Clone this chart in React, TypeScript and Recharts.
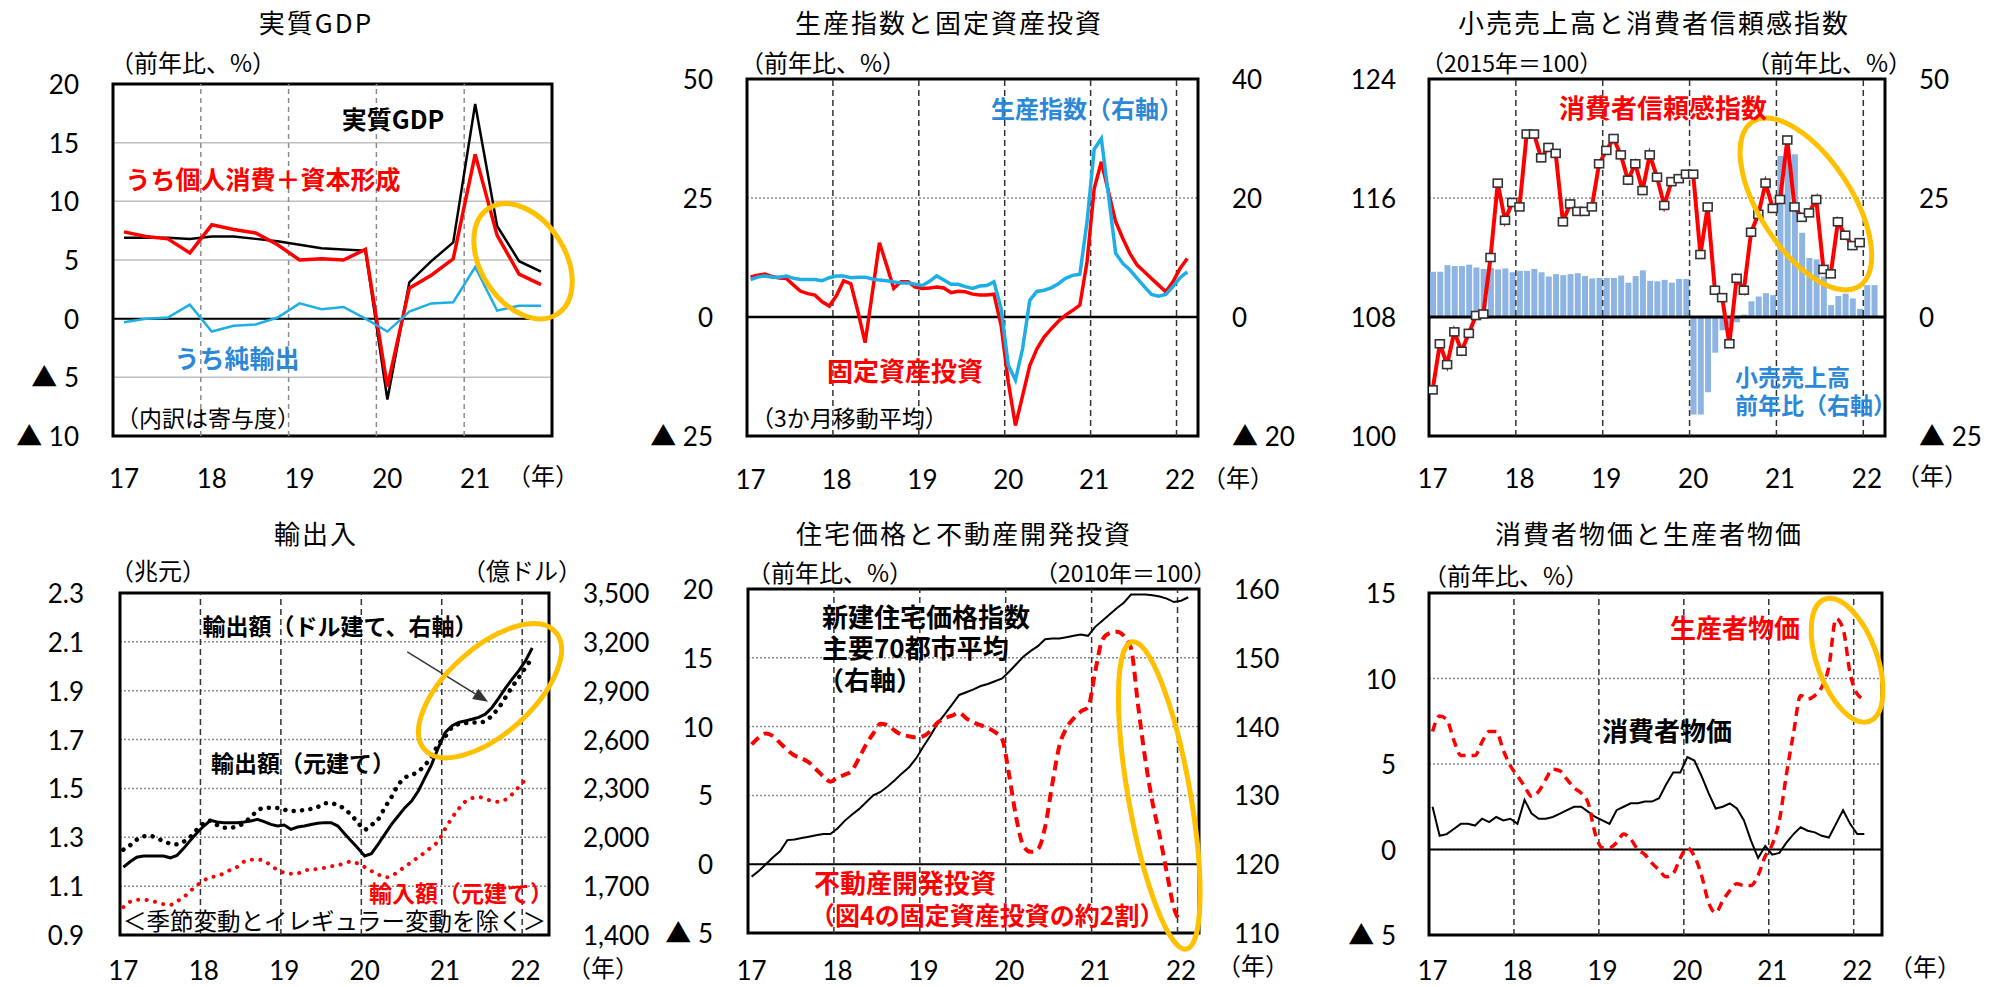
import React from "react";
import {
  Bar,
  CartesianGrid,
  ComposedChart,
  Line,
  ReferenceArea,
  ReferenceDot,
  ReferenceLine,
  XAxis,
  YAxis,
} from "recharts";

const FONT = "'Noto Sans CJK JP', 'Noto Sans', sans-serif";
const NUM_FONT = "Lato, 'Noto Sans CJK JP', sans-serif";
const RED = "#ff0000";
const SKY = "#1daee8";
const LABEL_BLUE = "#2b88d8";
const BAR_BLUE = "#8db4e2";
const GOLD = "#ffc000";

const yearLabels = ["17", "18", "19", "20", "21", "22"];

// ---- 実質GDP (quarterly, 17Q1-21Q4)
const gdpReal = [6.9, 6.9, 6.9, 6.8, 7.0, 7.0, 6.8, 6.6, 6.3, 6.0, 5.9, 5.8, -6.9, 3.1, 4.9, 6.5, 18.3, 7.9, 4.9, 4.0];
const gdpDomestic = [7.4, 7.0, 6.8, 5.6, 8.0, 7.6, 7.3, 6.3, 5.0, 5.1, 5.0, 5.9, -5.8, 2.6, 3.7, 5.1, 14.0, 7.1, 3.8, 2.9];
const gdpNetExports = [-0.3, 0.0, 0.1, 1.2, -1.1, -0.6, -0.5, 0.1, 1.3, 0.8, 1.0, 0.0, -1.1, 0.6, 1.3, 1.4, 4.4, 0.7, 1.1, 1.1];

// ---- 生産指数と固定資産投資 (monthly from Jan-17, 3mma)
const fixedInvest = [
  8.4, 8.8, 9.0, 8.5, 8.2, 8.1, 6.7, 5.4, 4.9, 4.6, 3.2, 2.3,
  4.5, 7.6, 7.0, 1.1, -5.4, 5.0, 15.6, 10.9, 6.0, 7.4, 7.4, 6.3,
  6.0, 6.1, 6.3, 6.1, 5.1, 5.4, 5.3, 4.8, 4.6, 4.6, 4.8, -1.8,
  -13.7, -22.8, -16.5, -10.2, -6.7, -4.2, -2.5, -0.9, 0.4, 1.4, 2.5, 11.6,
  27.0, 32.6, 26.3, 20.0, 16.5, 13.3, 10.9, 9.5, 8.1, 6.7, 5.3, 7.4,
  10.2, 12.3,
];
const industrialProd = [
  6.3, 6.7, 6.9, 6.7, 6.7, 6.9, 6.5, 6.3, 6.3, 6.3, 6.1, 6.6,
  6.9, 6.9, 6.6, 6.7, 6.7, 6.4, 6.2, 6.1, 5.9, 5.7, 5.7, 5.5,
  5.3, 6.0, 6.9, 6.2, 5.5, 5.5, 5.1, 4.8, 5.2, 5.3, 5.9, 1.4,
  -8.1, -10.6, -5.3, 2.8, 4.3, 4.5, 4.9, 5.6, 6.5, 7.0, 7.2, 16.0,
  28.2, 30.0, 20.4, 10.7, 9.0, 7.9, 6.5, 5.1, 3.8, 3.5, 3.8, 5.1,
  6.6, 7.6,
];

// ---- 小売売上高と消費者信頼感指数
const consumerConfidence = [
  103.1, 106.2, 104.8, 107.0, 105.7, 106.9, 108.1, 108.2, 112.0, 117.0, 114.5, 115.7,
  115.4, 120.3, 120.3, 118.7, 119.4, 119.0, 114.4, 115.6, 115.1, 115.1, 115.4, 118.3,
  119.2, 120.0, 118.9, 117.2, 118.3, 116.5, 118.9, 117.4, 115.5, 117.1, 117.3, 117.6,
  117.6, 112.2, 115.4, 109.8, 109.3, 106.2, 110.6, 109.8, 113.7, 114.9, 117.0, 115.3,
  115.9, 119.9, 115.4, 114.7, 115.0, 115.9, 111.2, 110.9, 114.4, 113.5, 112.8, 113.0,
];
const retailSales = [
  9.5, 9.5, 10.9, 10.7, 10.7, 11.0, 10.4, 10.1, 10.3, 10.0, 10.2, 9.4,
  9.7, 9.7, 10.1, 9.4, 8.5, 9.0, 8.8, 9.0, 9.2, 8.6, 8.1, 8.2,
  8.2, 8.2, 8.7, 7.2, 8.6, 9.8, 7.6, 7.5, 7.8, 7.2, 8.0, 8.0,
  -20.5, -20.5, -15.8, -7.5, -2.8, -1.8, -1.1, 0.5, 3.3, 4.3, 5.0, 4.6,
  33.8, 33.8, 34.2, 17.7, 12.4, 12.1, 8.5, 2.5, 4.4, 4.9, 3.9, 1.7,
  6.7, 6.7,
];

// ---- 輸出入
const exportsUsd = [
  1817, 1850, 1878, 1885, 1885, 1885, 1885, 1874, 1889, 1932, 1981, 2028,
  2069, 2104, 2094, 2090, 2090, 2090, 2094, 2100, 2110, 2096, 2079, 2069,
  2075, 2049, 2063, 2069, 2079, 2086, 2090, 2090, 2069, 2022, 1977, 1932,
  1885, 1899, 1956, 2018, 2079, 2131, 2182, 2223, 2284, 2366, 2448, 2551,
  2643, 2684, 2705, 2715, 2725, 2736, 2756, 2797, 2855, 2916, 2971, 3023,
  3084, 3162,
];
const exportsCny = [
  1.249, 1.267, 1.29, 1.304, 1.306, 1.295, 1.285, 1.274, 1.271, 1.282, 1.302, 1.332,
  1.358, 1.368, 1.35, 1.339, 1.339, 1.346, 1.358, 1.383, 1.408, 1.421, 1.421, 1.42,
  1.413, 1.408, 1.408, 1.412, 1.416, 1.424, 1.439, 1.439, 1.431, 1.416, 1.391, 1.36,
  1.331, 1.35, 1.373, 1.421, 1.465, 1.514, 1.544, 1.555, 1.569, 1.596, 1.63, 1.681,
  1.712, 1.749, 1.763, 1.767, 1.77, 1.77, 1.775, 1.799, 1.83, 1.872, 1.916, 1.954,
  1.995, 2.034,
];
const importsCny = [
  1.014, 1.036, 1.044, 1.044, 1.041, 1.034, 1.026, 1.023, 1.038, 1.055, 1.08, 1.104,
  1.123, 1.137, 1.141, 1.153, 1.167, 1.179, 1.2, 1.208, 1.209, 1.203, 1.185, 1.166,
  1.155, 1.151, 1.152, 1.166, 1.167, 1.171, 1.175, 1.181, 1.186, 1.193, 1.201, 1.192,
  1.178, 1.162, 1.148, 1.136, 1.14, 1.162, 1.178, 1.2, 1.218, 1.239, 1.261, 1.285,
  1.334, 1.378, 1.416, 1.446, 1.46, 1.465, 1.457, 1.449, 1.445, 1.454, 1.476, 1.506,
  1.537,
];

// ---- 住宅価格と不動産開発投資
const housePrice = [
  118.2, 119.0, 120.0, 121.0, 121.9, 123.5, 123.6, 123.8, 124.0, 124.2, 124.4, 124.4,
  125.2, 126.3, 127.2, 128.0, 129.0, 130.0, 130.5, 131.3, 132.2, 133.2, 134.1, 135.4,
  137.1, 138.7, 140.5, 141.8, 143.2, 144.6, 145.0, 145.4, 145.9, 146.2, 146.6, 147.0,
  148.0, 149.1, 150.2, 151.0, 151.7, 152.7, 152.8, 152.8, 153.0, 153.2, 153.4, 153.2,
  154.5, 155.4, 156.3, 157.2, 158.0, 159.2, 159.2, 159.2, 159.1, 158.9, 158.6, 158.1,
  158.3, 158.8,
];
const realEstateInvest = [
  8.7, 9.2, 9.5, 9.3, 8.8, 8.3, 7.9, 7.7, 7.4, 6.9, 6.4, 6.0,
  6.3, 6.5, 6.8, 7.7, 8.7, 9.5, 10.2, 10.1, 9.7, 9.4, 9.3, 9.2,
  9.3, 9.7, 10.3, 10.6, 10.8, 11.0, 10.6, 10.3, 10.1, 9.9, 9.6, 9.1,
  6.4, 3.3, 1.3, 0.9, 1.1, 2.7, 5.8, 8.6, 9.9, 10.6, 11.1, 11.4,
  14.0, 16.3, 16.8, 16.9, 16.6, 15.7, 11.5, 7.6, 4.5, 2.1, -0.6, -3.2,
  -4.2,
];

// ---- 消費者物価と生産者物価
const cpi = [
  2.5, 0.8, 0.9, 1.2, 1.5, 1.5, 1.4, 1.8, 1.6, 1.9, 1.7, 1.8,
  1.5, 2.9, 2.1, 1.8, 1.8, 1.9, 2.1, 2.3, 2.5, 2.5, 2.2, 1.9,
  1.7, 1.5, 2.3, 2.5, 2.7, 2.7, 2.8, 2.8, 3.0, 3.8, 4.5, 4.5,
  5.4, 5.2, 4.3, 3.3, 2.4, 2.5, 2.7, 2.4, 1.7, 0.5, -0.5, 0.2,
  -0.3, -0.2, 0.4, 0.9, 1.3, 1.1, 1.0, 0.8, 0.7, 1.5, 2.3, 1.5,
  0.9, 0.9,
];
const ppi = [
  6.9, 7.8, 7.6, 6.4, 5.5, 5.5, 5.5, 6.3, 6.9, 6.9, 5.8, 4.9,
  4.3, 3.7, 3.1, 3.4, 4.1, 4.7, 4.6, 4.1, 3.6, 3.3, 2.7, 0.9,
  0.1, 0.1, 0.4, 0.9, 0.6, 0.0, -0.3, -0.8, -1.2, -1.6, -1.4, -0.5,
  0.1, -0.4, -1.5, -3.1, -3.7, -3.0, -2.4, -2.0, -2.1, -2.1, -1.5, -0.4,
  0.3, 1.7, 4.4, 6.8, 9.0, 8.8, 9.0, 9.5, 10.7, 13.5, 12.9, 10.3,
  9.1, 8.8,
];

function rows(cols: Record<string, number[]>) {
  const n = Math.max(...Object.values(cols).map((c) => c.length));
  return Array.from({ length: n }, (_, i) => {
    const row: Record<string, number | undefined> = { x: i + 0.5 };
    for (const k of Object.keys(cols)) row[k] = cols[k][i];
    return row;
  });
}

const gdpRows = rows({ gdp: gdpReal, dom: gdpDomestic, net: gdpNetExports });
const prodRows = rows({ fai: fixedInvest, ip: industrialProd });
const retailRows = rows({ conf: consumerConfidence, retail: retailSales });
const tradeRows = rows({ usd: exportsUsd, exCny: exportsCny, imCny: importsCny });
const houseRows = rows({ price: housePrice, reInv: realEstateInvest });
const priceRows = rows({ cpi, ppi });

type Box = { L: number; T: number; R: number; B: number; axisH: number; dy: number };
const SIDE = 110;
const TOP = 26;

const P1: Box = { L: 113, T: 84, R: 552, B: 436, axisH: 64, dy: 40 };
const P2: Box = { L: 747, T: 79, R: 1198, B: 436, axisH: 64, dy: 41 };
const P3: Box = { L: 1429, T: 79, R: 1885, B: 436, axisH: 64, dy: 40 };
const P4: Box = { L: 120, T: 593, R: 549, B: 935, axisH: 52, dy: 33 };
const P5: Box = { L: 748, T: 589, R: 1199, B: 933, axisH: 54, dy: 35 };
const P6: Box = { L: 1429, T: 593, R: 1882, B: 935, axisH: 52, dy: 33 };

const wrap = (b: Box): React.CSSProperties => ({ position: "absolute", left: b.L - SIDE, top: b.T - TOP });
const cw = (b: Box) => b.R - b.L + 2 * SIDE;
const ch = (b: Box) => b.B - b.T + TOP + b.axisH;
const margin = { top: TOP, right: SIDE, bottom: 0, left: 0 };
const margin2 = { top: TOP, right: 0, bottom: 0, left: 0 };

const tri = (v: number) => (v < 0 ? `▲ ${Math.abs(v)}` : `${v}`);
const dec1 = (v: number) => v.toFixed(1);
const thousands = (v: number) => v.toLocaleString("en-US");

const leftTick = (fmt: (v: number) => string, dx = 32) => (p: any) => (
  <text x={p.x - dx} y={p.y} textAnchor="end" dominantBaseline="central" fontFamily={NUM_FONT} fontSize={26} fill="#000">
    {fmt(p.payload.value)}
  </text>
);
const rightTick = (fmt: (v: number) => string, dx = 32) => (p: any) => (
  <text x={p.x + dx} y={p.y} textAnchor="start" dominantBaseline="central" fontFamily={NUM_FONT} fontSize={26} fill="#000">
    {fmt(p.payload.value)}
  </text>
);
const xTick = (step: number, dy: number) => (p: any) => (
  <text x={p.x} y={p.y + dy} textAnchor="middle" dominantBaseline="central" fontFamily={NUM_FONT} fontSize={26} fill="#000">
    {yearLabels[Math.round((p.payload.value - 0.5) / step)]}
  </text>
);
const yearTicks = (n: number, step: number) => {
  const t: number[] = [];
  for (let v = 0.5; v < n; v += step) t.push(v);
  return t;
};

function xAxis(b: Box, n: number, step: number) {
  return (
    <XAxis
      key="xa"
      type="number"
      dataKey="x"
      domain={[0, n]}
      ticks={yearTicks(n, step)}
      interval={0}
      allowDataOverflow
      axisLine={false}
      tickLine={false}
      tickSize={0}
      height={b.axisH}
      tick={xTick(step, b.dy)}
    />
  );
}

function frame(n: number, step: number, grid: { stroke: string; dash?: string }, vLine: { stroke: string; dash: string }) {
  const out: React.ReactNode[] = [
    <CartesianGrid key="grid" vertical={false} stroke={grid.stroke} strokeDasharray={grid.dash} strokeWidth={1.5} />,
  ];
  for (let k = step; k < n; k += step) {
    out.push(<ReferenceLine key={`yr${k}`} x={k} stroke={vLine.stroke} strokeDasharray={vLine.dash} strokeWidth={1.5} />);
  }
  return out;
}

const border = (n: number, y1: number, y2: number) => (
  <ReferenceArea x1={0} x2={n} y1={y1} y2={y2} fill="none" fillOpacity={0} stroke="#000" strokeWidth={3} ifOverflow="visible" />
);

const ellipse = (rx: number, ry: number, rot: number) => (p: any) => (
  <ellipse
    cx={p.cx}
    cy={p.cy}
    rx={rx}
    ry={ry}
    transform={`rotate(${rot} ${p.cx} ${p.cy})`}
    fill="none"
    stroke={GOLD}
    strokeWidth={5}
  />
);

const arrow = (p: any) => {
  const { x1, y1, x2, y2 } = p;
  const a = Math.atan2(y2 - y1, x2 - x1);
  const len = 15;
  const w = 6;
  const bx = x2 - len * Math.cos(a);
  const by = y2 - len * Math.sin(a);
  const pts = `${x2},${y2} ${bx + w * Math.sin(a)},${by - w * Math.cos(a)} ${bx - w * Math.sin(a)},${by + w * Math.cos(a)}`;
  return (
    <g>
      <line x1={x1} y1={y1} x2={bx} y2={by} stroke="#333" strokeWidth={1.5} />
      <polygon points={pts} fill="#333" />
    </g>
  );
};

const squareDot = (p: any) => {
  if (p.cx == null || p.cy == null || p.value == null) return <g key={p.index} />;
  return <rect key={p.index} x={p.cx - 4.5} y={p.cy - 4} width={9} height={8} fill="#fff" stroke="#333" strokeWidth={1.6} />;
};

type Lbl = { t: string; x: number; y: number; size?: number; color?: string; bold?: boolean; left?: boolean; ls?: number };

const labels: Lbl[] = [
  // titles
  { t: "実質GDP", x: 316, y: 22, size: 26, ls: 2 },
  { t: "生産指数と固定資産投資", x: 949, y: 22, size: 26, ls: 2 },
  { t: "小売売上高と消費者信頼感指数", x: 1654, y: 22, size: 26, ls: 2 },
  { t: "輸出入", x: 316, y: 533, size: 26, ls: 2 },
  { t: "住宅価格と不動産開発投資", x: 964, y: 533, size: 26, ls: 2 },
  { t: "消費者物価と生産者物価", x: 1649, y: 533, size: 26, ls: 2 },
  // units
  { t: "（前年比、%）", x: 110, y: 62, left: true },
  { t: "（前年比、%）", x: 740, y: 62, left: true },
  { t: "（2015年＝100）", x: 1421, y: 62, left: true, size: 23 },
  { t: "（前年比、%）", x: 1746, y: 62, left: true },
  { t: "（兆元）", x: 110, y: 570, left: true },
  { t: "（億ドル）", x: 462, y: 570, left: true },
  { t: "（前年比、%）", x: 747, y: 572, left: true },
  { t: "（2010年＝100）", x: 1035, y: 572, left: true, size: 23 },
  { t: "（前年比、%）", x: 1423, y: 575, left: true },
  { t: "（年）", x: 543, y: 475 },
  { t: "（年）", x: 1238, y: 477 },
  { t: "（年）", x: 1932, y: 475 },
  { t: "（年）", x: 603, y: 967 },
  { t: "（年）", x: 1253, y: 965 },
  { t: "（年）", x: 1925, y: 966 },
  // panel 1
  { t: "実質GDP", x: 393, y: 118, size: 25, bold: true },
  { t: "うち個人消費＋資本形成", x: 263, y: 178, size: 25, bold: true, color: RED },
  { t: "うち純輸出", x: 237, y: 357, size: 25, bold: true, color: LABEL_BLUE },
  { t: "（内訳は寄与度）", x: 116, y: 417, size: 23, left: true },
  // panel 2
  { t: "生産指数（右軸）", x: 1087, y: 108, size: 24, bold: true, color: LABEL_BLUE },
  { t: "固定資産投資", x: 905, y: 370, size: 26, bold: true, color: RED },
  { t: "（3か月移動平均）", x: 751, y: 417, size: 23, left: true },
  // panel 3
  { t: "消費者信頼感指数", x: 1663, y: 107, size: 26, bold: true, color: RED },
  { t: "小売売上高", x: 1735, y: 376, size: 23, bold: true, color: LABEL_BLUE, left: true },
  { t: "前年比（右軸）", x: 1735, y: 404, size: 23, bold: true, color: LABEL_BLUE, left: true },
  // panel 4
  { t: "輸出額（ドル建て、右軸）", x: 340, y: 625, size: 23, bold: true },
  { t: "輸出額（元建て）", x: 303, y: 762, size: 23, bold: true },
  { t: "輸入額（元建て）", x: 461, y: 892, size: 23, bold: true, color: RED },
  { t: "＜季節変動とイレギュラー変動を除く＞", x: 123, y: 921, size: 23.5, left: true },
  // panel 5
  { t: "新建住宅価格指数", x: 822, y: 616, size: 26, bold: true, left: true },
  { t: "主要70都市平均", x: 822, y: 647, size: 26, bold: true, left: true },
  { t: "（右軸）", x: 818, y: 679, size: 26, bold: true, left: true },
  { t: "不動産開発投資", x: 814, y: 882, size: 26, bold: true, color: RED, left: true },
  { t: "（図4の固定資産投資の約2割）", x: 810, y: 914, size: 25, bold: true, color: RED, left: true },
  // panel 6
  { t: "生産者物価", x: 1735, y: 627, size: 26, bold: true, color: RED },
  { t: "消費者物価", x: 1667, y: 730, size: 26, bold: true },
];

function Label({ t, x, y, size = 24, color = "#000", bold, left, ls = 0 }: Lbl) {
  return (
    <div
      style={{
        position: "absolute",
        left: x,
        top: y,
        transform: left ? "translateY(-50%)" : "translate(-50%, -50%)",
        fontFamily: FONT,
        fontSize: size,
        fontWeight: bold ? 700 : 400,
        color,
        lineHeight: 1.15,
        whiteSpace: "nowrap",
        letterSpacing: ls,
      }}
    >
      {t}
    </div>
  );
}

const GRID_SOLID = { stroke: "#bfbfbf" };
const GRID_DOT = { stroke: "#8c8c8c", dash: "2 2" };
const YEAR_GREY = { stroke: "#8c8c8c", dash: "5 4" };
const YEAR_DARK = { stroke: "#333", dash: "6 4" };

export default function App() {
  return (
    <div style={{ position: "absolute", left: 0, top: 0, width: 2011, height: 987, background: "#fff", overflow: "hidden" }}>
      {/* 実質GDP */}
      <div style={wrap(P1)}>
        <ComposedChart width={cw(P1)} height={ch(P1)} data={gdpRows} margin={margin}>
          {frame(20, 4, GRID_SOLID, YEAR_GREY)}
          {xAxis(P1, 20, 4)}
          <YAxis type="number" domain={[-10, 20]} ticks={[-10, -5, 0, 5, 10, 15, 20]} interval={0} width={SIDE} axisLine={false} tickLine={false} tickSize={0} tick={leftTick(tri)} />
          <ReferenceLine y={0} stroke="#000" strokeWidth={2} />
          <Line dataKey="gdp" type="linear" stroke="#000" strokeWidth={2.5} dot={false} isAnimationActive={false} />
          <Line dataKey="dom" type="linear" stroke={RED} strokeWidth={3.5} dot={false} isAnimationActive={false} />
          <Line dataKey="net" type="linear" stroke={SKY} strokeWidth={2.5} dot={false} isAnimationActive={false} />
          {border(20, -10, 20)}
          <ReferenceDot x={18.68} y={4.9} r={1} ifOverflow="visible" shape={ellipse(42, 63, -33)} />
        </ComposedChart>
      </div>

      {/* 生産指数と固定資産投資 */}
      <div style={wrap(P2)}>
        <ComposedChart width={cw(P2)} height={ch(P2)} data={prodRows} margin={margin2}>
          {frame(63, 12, GRID_DOT, YEAR_DARK)}
          {xAxis(P2, 63, 12)}
          <YAxis type="number" domain={[-25, 50]} ticks={[-25, 0, 25, 50]} interval={0} width={SIDE} axisLine={false} tickLine={false} tickSize={0} tick={leftTick(tri)} />
          <YAxis yAxisId="right" orientation="right" type="number" domain={[-20, 40]} ticks={[-20, 0, 20, 40]} interval={0} width={SIDE} axisLine={false} tickLine={false} tickSize={0} tick={rightTick(tri)} />
          <ReferenceLine y={0} stroke="#000" strokeWidth={2.5} />
          <Line dataKey="fai" type="linear" stroke={RED} strokeWidth={3.5} dot={false} isAnimationActive={false} />
          <Line dataKey="ip" yAxisId="right" type="linear" stroke={SKY} strokeWidth={3.5} dot={false} isAnimationActive={false} />
          {border(63, -25, 50)}
        </ComposedChart>
      </div>

      {/* 小売売上高と消費者信頼感指数 */}
      <div style={wrap(P3)}>
        <ComposedChart width={cw(P3)} height={ch(P3)} data={retailRows} margin={margin2}>
          {frame(63, 12, GRID_DOT, YEAR_DARK)}
          {xAxis(P3, 63, 12)}
          <YAxis type="number" domain={[100, 124]} ticks={[100, 108, 116, 124]} interval={0} width={SIDE} axisLine={false} tickLine={false} tickSize={0} tick={leftTick(tri, 31)} />
          <YAxis yAxisId="right" orientation="right" type="number" domain={[-25, 50]} ticks={[-25, 0, 25, 50]} interval={0} width={SIDE} axisLine={false} tickLine={false} tickSize={0} tick={rightTick(tri)} />
          <Bar dataKey="retail" yAxisId="right" fill={BAR_BLUE} barSize={6} isAnimationActive={false} />
          <ReferenceLine y={108} stroke="#000" strokeWidth={3} />
          <Line dataKey="conf" type="linear" stroke={RED} strokeWidth={4} dot={squareDot} isAnimationActive={false} />
          {border(63, 100, 124)}
          <ReferenceDot x={52.07} y={115.6} r={1} ifOverflow="visible" shape={ellipse(46, 98, -33)} />
        </ComposedChart>
      </div>

      {/* 輸出入 */}
      <div style={wrap(P4)}>
        <ComposedChart width={cw(P4)} height={ch(P4)} data={tradeRows} margin={margin2}>
          {frame(64, 12, GRID_DOT, YEAR_DARK)}
          {xAxis(P4, 64, 12)}
          <YAxis type="number" domain={[0.9, 2.3]} ticks={[0.9, 1.1, 1.3, 1.5, 1.7, 1.9, 2.1, 2.3]} interval={0} width={SIDE} axisLine={false} tickLine={false} tickSize={0} tick={leftTick(dec1, 34)} />
          <YAxis yAxisId="right" orientation="right" type="number" domain={[1400, 3500]} ticks={[1400, 1700, 2000, 2300, 2600, 2900, 3200, 3500]} interval={0} width={SIDE} axisLine={false} tickLine={false} tickSize={0} tick={rightTick(thousands)} />
          <Line dataKey="imCny" type="monotone" stroke={RED} strokeWidth={4} strokeDasharray="0.1 8.4" strokeLinecap="round" dot={false} isAnimationActive={false} />
          <Line dataKey="exCny" type="monotone" stroke="#000" strokeWidth={4.5} strokeDasharray="0.1 8.3" strokeLinecap="round" dot={false} isAnimationActive={false} />
          <Line dataKey="usd" yAxisId="right" type="linear" stroke="#000" strokeWidth={3} dot={false} isAnimationActive={false} />
          <ReferenceLine segment={[{ x: 42.86, y: 2.059 }, { x: 54.91, y: 1.855 }]} ifOverflow="visible" shape={arrow} />
          {border(64, 0.9, 2.3)}
          <ReferenceDot x={55.2} y={1.9} r={1} ifOverflow="visible" shape={ellipse(43, 88, 48)} />
        </ComposedChart>
      </div>

      {/* 住宅価格と不動産開発投資 */}
      <div style={wrap(P5)}>
        <ComposedChart width={cw(P5)} height={ch(P5)} data={houseRows} margin={margin2}>
          {frame(63, 12, GRID_DOT, YEAR_DARK)}
          {xAxis(P5, 63, 12)}
          <YAxis type="number" domain={[-5, 20]} ticks={[-5, 0, 5, 10, 15, 20]} interval={0} width={SIDE} axisLine={false} tickLine={false} tickSize={0} tick={leftTick(tri, 33)} />
          <YAxis yAxisId="right" orientation="right" type="number" domain={[110, 160]} ticks={[110, 120, 130, 140, 150, 160]} interval={0} width={SIDE} axisLine={false} tickLine={false} tickSize={0} tick={rightTick(tri, 33)} />
          <ReferenceLine y={0} stroke="#000" strokeWidth={2} />
          <Line dataKey="price" yAxisId="right" type="linear" stroke="#000" strokeWidth={2} dot={false} isAnimationActive={false} />
          <Line dataKey="reInv" type="monotone" stroke={RED} strokeWidth={4} strokeDasharray="10 6" dot={false} isAnimationActive={false} />
          {border(63, -5, 20)}
          <ReferenceDot x={57.45} y={5.0} r={1} ifOverflow="visible" shape={ellipse(31, 156, -10)} />
        </ComposedChart>
      </div>

      {/* 消費者物価と生産者物価 */}
      <div style={wrap(P6)}>
        <ComposedChart width={cw(P6)} height={ch(P6)} data={priceRows} margin={margin}>
          {frame(64, 12, GRID_DOT, YEAR_DARK)}
          {xAxis(P6, 64, 12)}
          <YAxis type="number" domain={[-5, 15]} ticks={[-5, 0, 5, 10, 15]} interval={0} width={SIDE} axisLine={false} tickLine={false} tickSize={0} tick={leftTick(tri, 31)} />
          <ReferenceLine y={0} stroke="#000" strokeWidth={2} />
          <Line dataKey="cpi" type="linear" stroke="#000" strokeWidth={2} dot={false} isAnimationActive={false} />
          <Line dataKey="ppi" type="monotone" stroke={RED} strokeWidth={3.5} strokeDasharray="9 6" dot={false} isAnimationActive={false} />
          {border(64, -5, 15)}
          <ReferenceDot x={59.07} y={11.07} r={1} ifOverflow="visible" shape={ellipse(30, 65, -20)} />
        </ComposedChart>
      </div>

      {labels.map((l, i) => (
        <Label key={i} {...l} />
      ))}
    </div>
  );
}
